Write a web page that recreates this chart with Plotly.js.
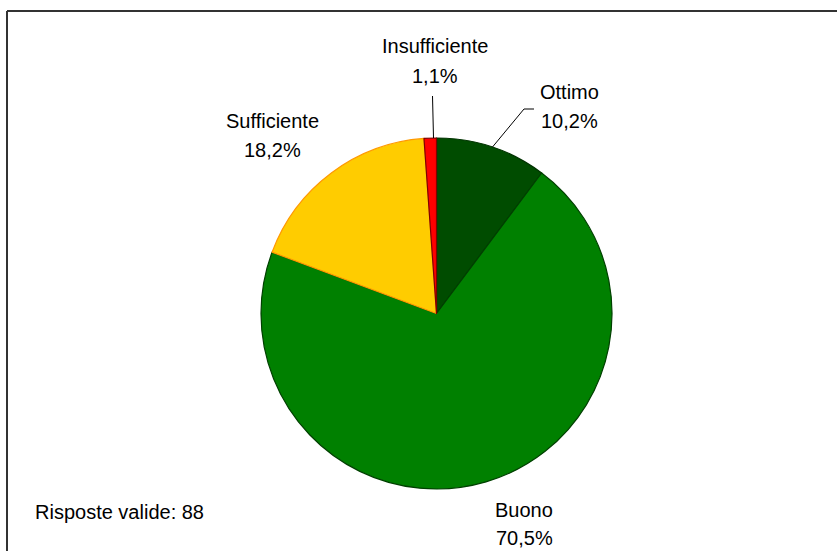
<!DOCTYPE html>
<html>
<head>
<meta charset="utf-8">
<script src="https://cdn.plot.ly/plotly-3.0.1.min.js"></script>
<style>html,body{margin:0;padding:0;background:#fff;}#chart{width:837px;height:551px;}</style>
</head>
<body>
<div id="chart"></div>
<script>
// ---- data ----
const categories = ["Ottimo", "Buono", "Sufficiente", "Insufficiente"];
const counts = [9, 62, 16, 1];
const validResponses = 88;
const fillColors = ["#004C00", "#008000", "#FFCC00", "#FF0000"];
const lineColors = ["#003300", "#004000", "#FF9900", "#800000"];

// ---- helpers ----
const W = 837, H = 551;
const px = x => x / W;
const py = y => 1 - y / H;
const total = counts.reduce((a, b) => a + b, 0);
const pctText = counts.map(c => (100 * c / total).toFixed(1).replace('.', ',') + '%');

// label placement (pixel positions of name line / percent line)
const labelPlace = {
  "Ottimo":        {x: 569, y1: 92,  y2: 121},
  "Buono":         {x: 524, y1: 510, y2: 538},
  "Sufficiente":   {x: 272, y1: 121, y2: 150},
  "Insufficiente": {x: 435, y1: 46,  y2: 76}
};
const font = {family: "Liberation Sans, Arial, sans-serif", size: 20, color: "#000"};

const annotations = [];
categories.forEach((c, i) => {
  const p = labelPlace[c];
  annotations.push({xref: 'paper', yref: 'paper', x: px(p.x), y: py(p.y1), text: c,
    showarrow: false, xanchor: 'center', yanchor: 'middle', font: font});
  annotations.push({xref: 'paper', yref: 'paper', x: px(p.x), y: py(p.y2), text: pctText[i],
    showarrow: false, xanchor: 'center', yanchor: 'middle', font: font});
});
annotations.push({xref: 'paper', yref: 'paper', x: px(33), y: py(512),
  text: "Risposte valide: " + validResponses, showarrow: false,
  xanchor: 'left', yanchor: 'middle', font: font});

const shapes = [
  // leader lines
  {type: 'path', xref: 'paper', yref: 'paper',
   path: `M ${px(492.5)} ${py(147)} L ${px(524)} ${py(109)} L ${px(534)} ${py(109)}`,
   line: {color: '#000', width: 1}},
  {type: 'path', xref: 'paper', yref: 'paper',
   path: `M ${px(432.5)} ${py(96)} L ${px(433.5)} ${py(138)}`,
   line: {color: '#000', width: 1}},
  // chart frame
  {type: 'line', xref: 'paper', yref: 'paper', x0: px(7), x1: px(840), y0: py(11), y1: py(11),
   line: {color: '#333', width: 2}},
  {type: 'line', xref: 'paper', yref: 'paper', x0: px(7), x1: px(7), y0: py(11), y1: py(560),
   line: {color: '#333', width: 2}}
];

const trace = {
  type: 'pie',
  labels: categories,
  values: counts,
  sort: false,
  direction: 'clockwise',
  rotation: 0,
  textinfo: 'none',
  hoverinfo: 'skip',
  marker: {colors: fillColors, line: {color: lineColors, width: 1.2}},
  domain: {x: [px(261), px(612)], y: [py(489), py(138)]},
  showlegend: false
};

const layout = {
  width: W, height: H,
  margin: {l: 0, r: 0, t: 0, b: 0},
  paper_bgcolor: '#fff', plot_bgcolor: '#fff',
  showlegend: false,
  annotations: annotations,
  shapes: shapes,
  font: font
};

Plotly.newPlot('chart', [trace], layout, {staticPlot: true, displayModeBar: false});
</script>
</body>
</html>
